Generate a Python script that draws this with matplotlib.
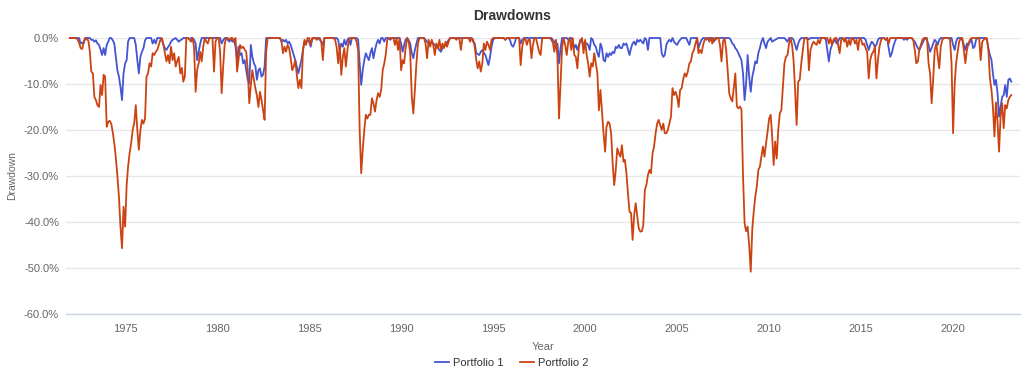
import pandas as pd
import matplotlib
matplotlib.use('Agg')
import matplotlib.pyplot as plt
import matplotlib.dates as mdates
from matplotlib.ticker import MultipleLocator, FuncFormatter

plt.rcParams['font.family'] = ['Liberation Sans', 'DejaVu Sans']

# monthly drawdowns in %, one row per year starting Jan 1972
portfolio1 = [
    0, 0, 0, 0, 0, 0, 0, -1.2, -1, -1.2, 0, 0,                              # 1972
    0, 0, -0.4, -0.4, -0.8, -0.5, -1.2, -1.5, -2.5, -3.7, -2.2, -3.7,       # 1973
    -1.5, -0.8, 0, 0, -0.5, -1.2, -4.1, -7, -8.4, -10.6, -13.5, -7.7,       # 1974
    -5.5, -4.8, -0.8, 0, 0, 0, 0, -1.5, -4.8, -7.7, -4.1, -3,               # 1975
    -2.2, -0.5, 0, 0, 0, 0, -1.2, -0.4, -1.2, 0, 0, 0,                      # 1976
    -0.4, -1.5, -2.2, -2.6, -2, -1.5, -0.8, -0.4, -0.2, 0, -0.4, -0.8,      # 1977
    -0.5, -0.3, 0, 0, 0, 0, -0.3, 0, 0, -0.4, -1.2, -4.8,                   # 1978
    -2.9, -1.2, 0, 0, 0, 0, 0, 0, 0, 0, 0, 0,                               # 1979
    0, 0, 0, -1.2, -0.5, 0, 0, -0.4, -0.8, -0.2, -0.8, -0.4,                # 1980
    -1.9, -4.8, -1.9, -3.7, -3.3, -5.5, -4.8, -7, -9.1, -9.9, -1.5, -4.1,   # 1981
    -5.5, -6.2, -9.1, -7, -6.6, -8.4, -8, -6.2, 0, 0, 0, 0,                 # 1982
    0, 0, 0, 0, 0, 0, -0.8, -0.4, -0.8, -0.4, -1.2, -0.8,                   # 1983
    -1.5, -2.6, -3.7, -4.8, -6.2, -7.7, -6.2, -4.8, -2.6, -0.8, -0.8, -0.5, # 1984
    -0.8, -1.9, -0.4, 0, 0, 0, 0, -0.4, -0.8, -1.5, 0, 0,                   # 1985
    0, 0, 0, 0, 0, 0, 0, -0.4, -2.6, -1.2, -1.9, -0.4,                      # 1986
    -1.5, -0.4, 0, -1.5, 0, 0, 0, 0, -0.4, -5.5, -10.2, -7,                 # 1987
    -4.8, -3.3, -4.1, -4.8, -3.3, -2.2, -4.4, -2.6, -1.2, -0.4, -1.2, 0,    # 1988
    0, -0.8, 0, 0, 0, -0.4, 0, 0, 0, 0, 0, 0,                               # 1989
    -1.2, -3, -1.5, -0.4, 0, -0.5, -1.2, -3.3, -4.4, -2.6, -1.2, 0,         # 1990
    0, 0, 0, 0, -0.4, -0.8, -1.2, -1, -0.8, -1.2, -1.5, -2,                 # 1991
    -2.2, -2.6, -3, -2.2, -1.9, -1.5, -1, -0.4, 0, 0, 0, 0,                 # 1992
    0, 0, 0, 0, 0, 0, 0, 0, 0, 0, 0, -0.8,                                  # 1993
    -1.2, -3.3, -3.5, -3.7, -3, -2.6, -3.2, -3.7, -4.8, -5.9, -4.1, -1.9,   # 1994
    -0.4, 0, 0, 0, 0, 0, 0, 0, -0.4, 0, 0, -0.4,                            # 1995
    -1.5, -1.9, -1.2, 0, 0, 0, -1.2, -0.4, 0, 0, 0, 0,                      # 1996
    0, 0, 0, 0, 0, 0, 0, 0, 0, 0, 0, 0,                                     # 1997
    0, 0, 0, -0.4, -0.8, -1.5, -1.2, -5.5, -2.2, 0, 0, 0,                   # 1998
    0, -0.4, 0, 0, -0.8, -2.2, -1.5, -2.6, -1.5, -0.4, -0.8, -1.2,          # 1999
    -1, -1.2, -1.5, -2.6, 0, -0.4, -1.5, -1.9, -3.3, -4.1, -1.2, -2.2,      # 2000
    -4.8, -5.1, -3.3, -4.1, -3.3, -3.7, -3, -3.3, -1.9, -2.2, -1.5, -2.2,   # 2001
    -2.2, -1.2, -1.5, -1.2, -2.5, -3.7, -2.2, -1.2, -0.8, -1.5, -0.4, -0.8, # 2002
    -0.4, -0.8, -1.2, 0, -0.4, -2.6, 0, 0, 0, 0, 0, 0,                      # 2003
    0, 0, -3.3, -4.1, -3.7, -1.5, -0.8, -0.4, -0.8, 0, -0.8, -1.2,          # 2004
    -1.5, -0.8, -0.4, 0, 0, 0, 0, -0.8, -1.5, 0, 0, 0,                      # 2005
    0, 0, -2.2, -1.2, -0.4, 0, 0, -0.4, 0, 0, 0, 0,                         # 2006
    -0.8, 0, 0, 0, 0, 0, 0, 0, 0, 0, 0, -0.4,                               # 2007
    -1.2, -1.5, -2.2, -2.6, -3.3, -4.1, -4.8, -7.7, -13.5, -9.9, -3.7, -8.4,  # 2008
    -11.7, -8.4, -7, -5.1, -5.5, -3.3, -2.2, -0.8, 0, -1.2, -2.2, -0.8,     # 2009
    -0.4, 0, -0.8, -0.6, -0.4, -0.2, 0, 0, 0, 0, 0, -0.4,                   # 2010
    -0.8, 0, 0, 0, -0.4, -1.5, -2.6, -1.2, -0.4, 0, 0, 0,                   # 2011
    0, 0, -0.3, 0, 0, 0, 0, 0, 0, 0, 0, 0,                                  # 2012
    0, -0.4, -2.6, -5.1, -2.6, -1.5, -0.8, -0.4, -1.2, -0.8, 0, 0,          # 2013
    0, -0.3, 0, 0, 0, 0, -0.3, 0, 0, 0, 0, 0,                               # 2014
    0, 0, 0, -0.4, -1.5, -2.6, -1.5, -0.8, -1.2, -1.9, -1.5, -0.4,          # 2015
    0, 0, 0, 0, -0.4, 0, -2.2, -4.1, -3.3, -1.9, -0.8, 0,                   # 2016
    0, 0, 0, 0, -0.4, 0, -0.4, 0, 0, 0, -0.4, -0.8,                         # 2017
    -1.5, -2.2, -2.6, -1.9, -1.2, -0.4, 0, -0.5, -1.5, -3, -2.2, -1.2,      # 2018
    -0.4, -0.8, -1.5, -0.4, 0, 0, 0, 0, 0, 0, 0, 0,                         # 2019
    -1.5, -2.6, -0.8, 0, 0, 0, -0.4, -1.5, -2.6, -1.2, -1.5, -0.8,          # 2020
    -0.4, -2.2, -1.9, -0.4, 0, 0, 0, 0, 0, 0, -0.4, -2.2,                   # 2021
    -3.7, -4.8, -7.7, -10.2, -9.1, -12, -17.1, -14.9, -12.8, -12.4, -10.2, -12.8,  # 2022
    -9.1, -8.8, -9.5,                                                      # 2023
]

portfolio2 = [
    0, 0, 0, 0, 0, -0.3, -1.0, -2.2, -2.4, -0.8, 0, -0.3,                    # 1972
    -0.5, -3, -7.3, -7.7, -12.8, -13.5, -14.6, -15, -10.2, -12.4, -8, -8.4,  # 1973
    -19.3, -18.2, -18, -18.6, -20.5, -22.9, -26, -30, -34.5, -41, -45.7, -36.7,  # 1974
    -41, -32, -28, -25, -22.9, -20, -18.5, -14.6, -20, -24.3, -20, -17.8,    # 1975
    -18.6, -17.5, -8.4, -7.7, -5.5, -6.2, -3.3, -3.7, -3, -2.6, -1.5, -0.4,  # 1976
    0, -1.5, -3.3, -5.1, -3.7, -5.5, -1.9, -4.8, -3.3, -6.2, -5, -4.1,       # 1977
    -7.7, -6.5, -9.5, -8.4, 0, 0, -0.3, -0.8, 0, -2, -11.7, -7,              # 1978
    -5.5, -3, -5.1, -1.9, 0, -0.8, -1.2, 0, 0, 0, -7.3, -0.8,                # 1979
    0, 0, -3, -12, -6.2, -1.2, 0, 0, -0.4, 0, 0, -0.8,                       # 1980
    0, -7.3, -4.8, -1.5, -2.2, -1.9, -2.5, -3, -7, -14.2, -10.2, -7,         # 1981
    -9.1, -11, -12.5, -15, -11.7, -13.5, -15.7, -17.8, -3, 0, 0, 0,          # 1982
    0, 0, 0, 0, 0, 0, -0.5, -3.3, -1.9, -3, -1.5, -2.2,                      # 1983
    -4.4, -7, -6.2, -4.8, -8, -10.9, -9.1, -10.9, -2.6, -0.4, -1.5, 0,       # 1984
    0, -1.5, 0, 0, 0, -0.4, 0, 0, -1, -4.8, 0, 0,                            # 1985
    0, 0, 0, 0, 0, -0.4, -2, -5.5, -1.5, -8, -4.1, -2.2,                     # 1986
    -6.2, -2.6, -0.4, 0, 0, 0, 0, -0.8, -2.6, -20, -29.4, -24.3,             # 1987
    -20, -16.7, -17.5, -16.7, -16.7, -13.1, -14.2, -16, -13.5, -12, -12.8, -11.3,  # 1988
    -7, -5.5, -3.7, -0.4, 0, 0, 0, 0, -1.5, 0, -2.6, 0,                      # 1989
    -7, -4.8, -5.5, -2.2, 0, -0.8, -3.3, -12.8, -16.4, -11.3, -5.5, -1.2,    # 1990
    0, 0, 0, 0, -1.2, -4.4, -0.4, -1.9, -0.4, -1.5, -3.7, -1.2,              # 1991
    -2.2, -0.4, -2.6, -1.2, -2.2, -0.8, -1.9, -0.8, 0, 0, 0, 0,              # 1992
    -0.4, 0, 0, -2.6, 0, 0, 0, 0, 0, -0.8, 0, -0.4,                          # 1993
    -1.9, -4.8, -6.6, -5.1, -7.3, -5.5, -1.2, -2.6, -0.8, -1.5, -2.6, -0.4,  # 1994
    0, 0, 0, 0, 0, 0, 0, 0, -0.4, 0, 0, 0,                                   # 1995
    0, 0, 0, 0, 0, 0, -5.9, -1.9, -0.4, 0, -1.5, -0.4,                       # 1996
    -0.4, -4.4, -1.5, 0, 0, -1.5, -3, -3.7, 0, 0, 0, 0,                      # 1997
    0, 0, -0.4, -1, -3, -0.4, -4, -17.5, -9.9, -2, 0, -1.5,                  # 1998
    -3.7, -0.8, 0, -2.6, 0, -3.7, -4.1, -6.6, -1.9, -0.5, 0, -3.3,           # 1999
    -0.4, -3.7, -5.5, -8.4, -5.5, -6.2, -3.3, -5.5, -7.7, -15.7, -11.3, -16, # 2000
    -20.7, -24.7, -19.3, -18.2, -18.6, -20.7, -27.2, -32, -28.7, -24, -25.1, -25.8,  # 2001
    -23.3, -26.9, -26.5, -29.4, -33.8, -37.8, -38, -43.9, -38.5, -35.9, -38.8, -41.4,  # 2002
    -42.1, -42, -40.7, -33, -32, -29.8, -28.7, -29.4, -25.1, -23.6, -20.7, -18.6,  # 2003
    -17.8, -19, -20, -18.6, -20.7, -20.7, -20, -18.6, -17.1, -10.9, -12.4, -11.7,  # 2004
    -12.8, -15, -11.3, -10.9, -9, -7.7, -8.4, -7.3, -5.5, -5.1, -3.3, -2.6,  # 2005
    -1.2, 0, -3.3, -2.6, -3.3, -1.5, -0.4, 0, 0, -0.8, 0, -1.2,              # 2006
    0, -0.4, 0, 0, -1.5, -5.1, -0.8, 0, -2.6, -7, -12, -13.1,                # 2007
    -13.8, -10.6, -7.7, -14.9, -15.3, -14.9, -15.5, -30, -40.3, -42, -41, -45,  # 2008
    -50.8, -41.5, -37.8, -34.5, -32.3, -28.7, -28, -25.8, -23.6, -25.8, -22.9, -20.4,  # 2009
    -17.5, -16.7, -21.1, -27.6, -22.5, -26.2, -20, -16.4, -15.7, -10.6, -5.5, -4.1,  # 2010
    -3.7, -1.2, 0, -1.5, -4.8, -11.3, -18.9, -9.5, -9.1, -5.5, -2.6, 0,      # 2011
    0, -0.4, -7, -2.6, -1.5, -0.8, -1.2, -1.5, -0.4, -1.2, 0, 0,             # 2012
    0, 0, 0, -1.2, 0, -1.5, -0.4, 0, 0, -1.5, -3.3, -0.4,                    # 2013
    0, -0.8, 0, -1.9, -0.4, -1.5, 0, 0, -1.2, -0.4, -2.6, 0,                 # 2014
    -0.4, -1.5, -1.2, -2.2, -3, -8.8, -4.8, -3.5, -3, -1.9, -8.8, -4.8,      # 2015
    -1.9, -0.4, 0, 0, -0.4, 0, -1.2, 0, 0, 0, 0, 0,                          # 2016
    0, 0, 0, 0, 0, 0, 0, 0, 0, 0, -0.4, -2.6,                                # 2017
    -5.5, -5.1, -2.6, -1.5, -0.4, 0, 0, 0, -5.5, -7.7, -14.2, -9.1,          # 2018
    -2.6, -1.2, -3.7, -6.6, -1.9, -0.4, 0, 0, 0, 0, -0.4, -5.5,              # 2019
    -20.7, -9.9, -5.5, -2.9, -0.8, 0, 0, -2.6, -5.5, -2.6, -1.2, -0.4,       # 2020
    0, 0, 0, 0, 0, 0, -4.8, -0.8, -0.4, 0, 0, -2.6,                          # 2021
    -8.8, -11.3, -14.9, -21.4, -14, -18.2, -24.7, -17, -14.2, -19.6, -14.6, -15.3,  # 2022
    -13.5, -12.8, -12.4,                                                     # 2023
]

series_names = ['Portfolio 1', 'Portfolio 2']
series_colors = ['#4355d2', '#cc4312']

dates = pd.date_range('1972-01-01', periods=len(portfolio1), freq='MS')

fig = plt.figure(figsize=(10.24, 3.82), dpi=100)
W, H = 1024, 382
ax = fig.add_axes([66 / W, 1 - 314 / H, (1020 - 66) / W, (314 - 38) / H])

for vals, name, col in zip([portfolio1, portfolio2], series_names, series_colors):
    ax.plot(dates, vals, color=col, lw=1.3, label=name, clip_on=False, zorder=3)

ax.set_ylim(-60, 0)
ax.set_xlim(pd.Timestamp('1971-10-16'), pd.Timestamp('2023-08-21'))
ax.yaxis.set_major_locator(MultipleLocator(10))
ax.yaxis.set_major_formatter(FuncFormatter(lambda v, p: '%.1f%%' % (v if abs(v) > 1e-9 else 0)))
ax.xaxis.set_major_locator(mdates.YearLocator(5))
ax.xaxis.set_major_formatter(mdates.DateFormatter('%Y'))

ax.grid(axis='y', color='#e6e6e6', lw=1)
ax.set_axisbelow(True)
for s in ['left', 'right', 'top']:
    ax.spines[s].set_visible(False)
ax.spines['bottom'].set_color('#ccd6eb')
ax.spines['bottom'].set_linewidth(1)
ax.tick_params(axis='both', length=0, labelsize=8, colors='#666666')
ax.tick_params(axis='x', pad=7)
ax.tick_params(axis='y', pad=5)

ax.set_xlabel('Year', fontsize=8, color='#666666', labelpad=6)
ax.set_ylabel('Drawdown', fontsize=7.5, color='#666666', labelpad=5)

fig.text(0.5, 1 - 16 / H, 'Drawdowns', ha='center', va='center',
         fontsize=10, fontweight='bold', color='#333333')

fig.legend(loc='center', bbox_to_anchor=(0.5, 1 - 363 / H), ncol=2, frameon=False,
           fontsize=8, handlelength=1.2, handletextpad=0.4, columnspacing=1.5,
           labelcolor='#333333')

fig.savefig('out.png', dpi=100)
